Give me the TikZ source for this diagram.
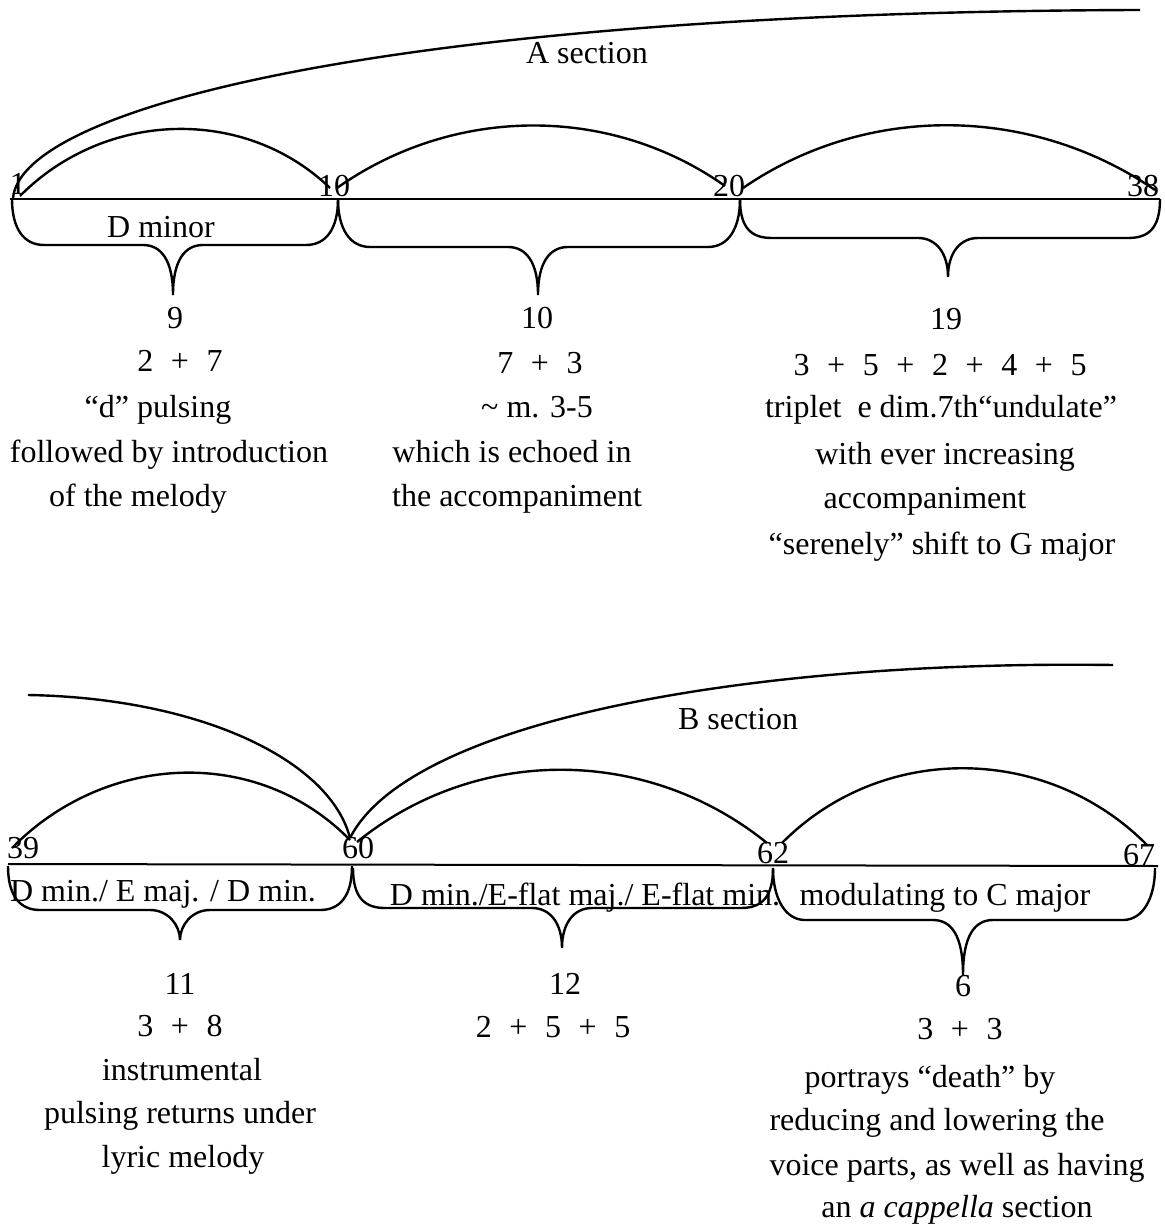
\documentclass[tikz,border=0pt]{standalone}
\usepackage{fontspec}
\setmainfont{Liberation Serif}
\usetikzlibrary{calc}

% a phrase brace: left x, right x, line y, flat y, tip x, tip y
\newcommand{\phrasebrace}[6]{%
  \draw[brc] (#1,#3) .. controls (#1,#3+30) and (#1+12,#4) .. (#1+32,#4)
    -- (#5-30,#4) .. controls (#5-12,#4) and (#5,#4+15) .. (#5,#6)
    .. controls (#5,#4+15) and (#5+12,#4) .. (#5+30,#4)
    -- (#2-32,#4) .. controls (#2-12,#4) and (#2,#3+30) .. (#2,#3);}
\newcommand{\pls}{\hspace{0.55em}+\hspace{0.55em}}

\begin{document}
\begin{tikzpicture}[x=0.5pt,y=-0.5pt,
  lbl/.style={font=\fontsize{16}{19}\selectfont,inner sep=0pt,anchor=base},
  arc/.style={line width=1.2pt},
  brc/.style={line width=1.2pt},
  tl/.style={line width=1pt}]
  \useasboundingbox (0,0) rectangle (1164,1224);

  % A section
  \coordinate (ta) at (10,199);
  \coordinate (tb) at (1160,199);
  \draw[tl] (ta) -- (tb);
  \draw[arc] (13,199) .. controls (18,110) and (380,12) .. (1140,10);
  \draw[arc] (20,196) .. controls (105,110) and (245,106) .. (330,188);
  \draw[arc] (337,188) .. controls (453,106) and (609,104) .. (725,186);
  \draw[arc] (743,188) .. controls (867,103) and (1031,105) .. (1155,190);
  \phrasebrace{12}{338}{199}{245}{173}{295}
  \phrasebrace{338}{740}{199}{247}{538}{295}
  \phrasebrace{740}{1160}{199}{238}{948}{277}

  \node[lbl] (secA) at (587,64) {A section};
  \node[lbl] (m1) at (18,195) {1};
  \node[lbl] (m10) at (334,197) {10};
  \node[lbl] (m20) at (729,197) {20};
  \node[lbl] (m38) at (1143,197) {38};
  \node[lbl] (kA1) at (161,238) {D minor};

  \node[lbl] (a1) at (175,329) {9};
  \node[lbl] (a2) at (180,372) {2\pls 7};
  \node[lbl] (a3) at (158,417) {“d” pulsing};
  \node[lbl] (a4) at (169,462) {followed by introduction};
  \node[lbl] (a5) at (138,506) {of the melody};

  \node[lbl] (b1) at (537,329) {10};
  \node[lbl] (b2) at (540,374) {7\pls 3};
  \node[lbl] (b3) at (537,417) {\textasciitilde\ m. 3-5};
  \node[lbl] (b4) at (512,462) {which is echoed in};
  \node[lbl] (b5) at (517,506) {the accompaniment};

  \node[lbl] (c1) at (946,330) {19};
  \node[lbl] (c2) at (940,376) {3\pls 5\pls 2\pls 4\pls 5};
  \node[lbl] (c3) at (941,417) {triplet\ \ e dim.7th“undulate”};
  \node[lbl] (c4) at (945,464) {with ever increasing};
  \node[lbl] (c5) at (925,508) {accompaniment};
  \node[lbl] (c6) at (942,554) {“serenely” shift to G major};

  % B section
  \coordinate (ba) at (8,864);
  \coordinate (bb) at (1158,866);
  \draw[tl] (ba) -- (bb);
  \draw[arc] (28,695) .. controls (200,698) and (330,760) .. (350,838);
  \draw[arc] (350,838) .. controls (410,720) and (750,660) .. (1113,665);
  \draw[arc] (12,848) .. controls (105,753) and (257,745) .. (350,840);
  \draw[arc] (357,842) .. controls (477,745) and (647,746) .. (767,843);
  \draw[arc] (782,843) .. controls (882,742) and (1047,744) .. (1147,845);
  \phrasebrace{8}{352}{866}{910}{180}{940}
  \phrasebrace{353}{773}{868}{908}{562}{948}
  \phrasebrace{773}{1155}{868}{920}{963}{975}

  \node[lbl] (secB) at (738,729) {B section};
  \node[lbl] (m39) at (23,858) {39};
  \node[lbl] (m60) at (358,858) {60};
  \node[lbl] (m62) at (773,863) {62};
  \node[lbl] (m67) at (1139,865) {67};
  \node[lbl] (kB1) at (163,901) {D min./ E maj. / D min.};
  \node[lbl] (kB2) at (585,905) {D min./E-flat maj./ E-flat min.};
  \node[lbl] (kB3) at (945,905) {modulating to C major};

  \node[lbl] (d1) at (180,994) {11};
  \node[lbl] (d2) at (180,1036) {3\pls 8};
  \node[lbl] (d3) at (182,1080) {instrumental};
  \node[lbl] (d4) at (180,1123) {pulsing returns under};
  \node[lbl] (d5) at (183,1167) {lyric melody};

  \node[lbl] (e1) at (565,994) {12};
  \node[lbl] (e2) at (553,1037) {2\pls 5\pls 5};

  \node[lbl] (f1) at (963,996) {6};
  \node[lbl] (f2) at (960,1039) {3\pls 3};
  \node[lbl] (f3) at (930,1087) {portrays “death” by};
  \node[lbl] (f4) at (937,1130) {reducing and lowering the};
  \node[lbl] (f5) at (957,1175) {voice parts, as well as having};
  \node[lbl] (f6) at (957,1217) {an \textit{a cappella} section};
\end{tikzpicture}
\end{document}
